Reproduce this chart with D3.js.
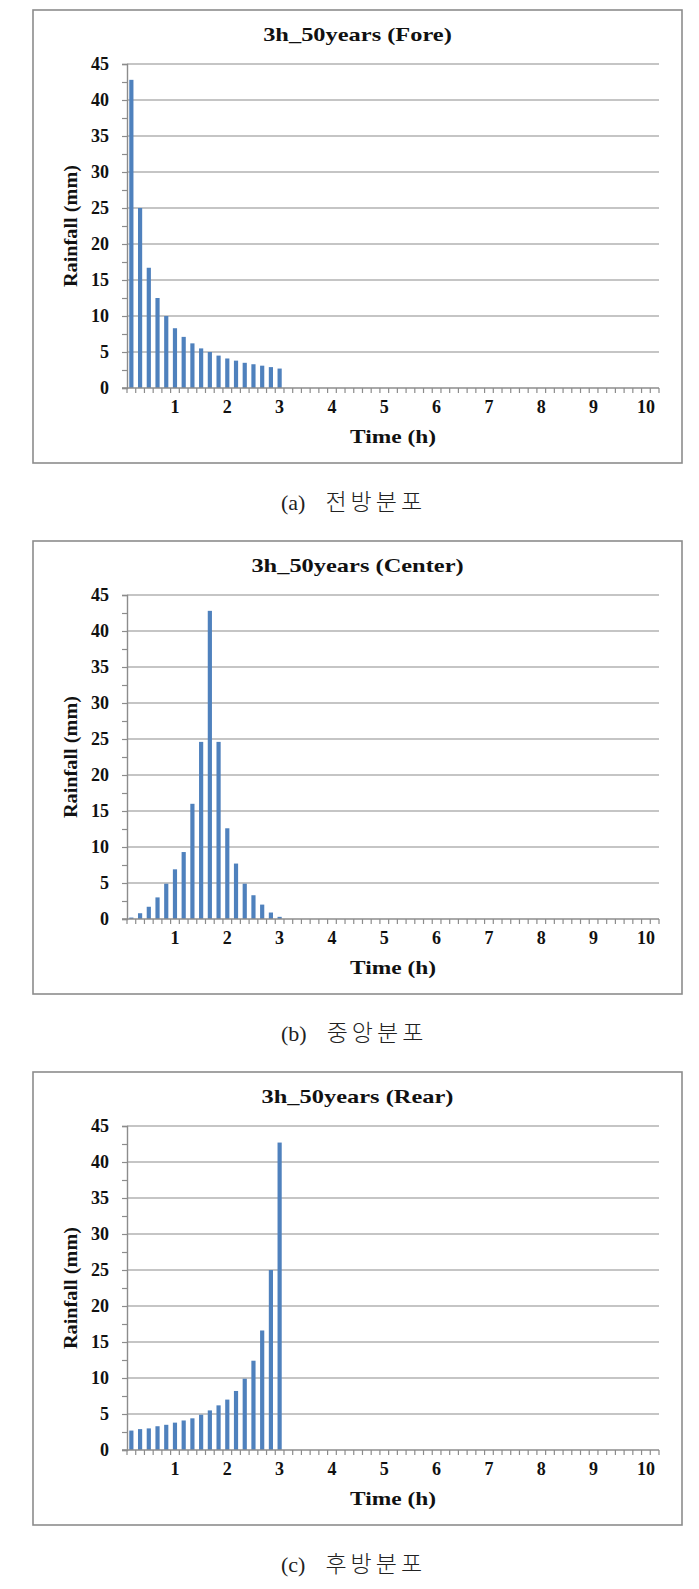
<!DOCTYPE html>
<html>
<head>
<meta charset="utf-8">
<script src="https://cdn.jsdelivr.net/npm/d3@7"></script>
<style>
  html, body { margin: 0; padding: 0; background: #fff; }
  svg { display: block; }
</style>
</head>
<body>
<div id="chart"></div>
<script>
// ---- data ----
// 10-minute time steps (minutes) along the category axis
const categories = [10,20,30,40,50,60,70,80,90,100,110,120,130,140,150,160,170,180,190,200,
  210,220,230,240,250,260,270,280,290,300,310,320,330,340,350,360,370,380,390,400,
  410,420,430,440,450,460,470,480,490,500,510,520,530,540,550,560,570,580,590,600,610];
const xTickLabels = ["1","2","3","4","5","6","7","8","9","10"];
const xTickCategories = [60,120,180,240,300,360,420,480,540,600];
const yTickValues = [0,5,10,15,20,25,30,35,40,45];

const foreValues   = [42.8,25.0,16.7,12.5,10.0,8.3,7.1,6.2,5.5,5.0,4.5,4.1,3.8,3.5,3.3,3.1,2.9,2.7];
const centerValues = [0.2,0.8,1.7,3.0,4.9,6.9,9.3,16.0,24.6,42.8,24.6,12.6,7.7,4.9,3.3,2.0,0.9,0.3];
const rearValues   = [2.7,2.9,3.0,3.3,3.5,3.8,4.1,4.4,4.9,5.5,6.2,7.0,8.2,9.9,12.4,16.6,25.0,42.7];

const titles = ["3h_50years (Fore)","3h_50years (Center)","3h_50years (Rear)"];
const captionLetters = ["(a)","(b)","(c)"];
const captionWords = ["전방분포","중앙분포","후방분포"];
const seriesList = [foreValues, centerValues, rearValues];

// ---- layout ----
const W = 699, H = 1589;
const panelStep = 531;
const box = {x: 33, y: 10, w: 649, h: 453};
const plot = {l: 127, r: 659, t: 64, b: 388};
const serif = "'Liberation Serif','Times New Roman',serif";
const gridColor = "#8c8c8c";
const barColor = "#4f81bd";

const svg = d3.select("#chart").append("svg")
  .attr("width", W).attr("height", H)
  .attr("viewBox", `0 0 ${W} ${H}`);

const x = d3.scaleBand().domain(categories).range([plot.l, plot.r])
  .paddingInner(0.52).paddingOuter(0.26);
const y = d3.scaleLinear().domain([0, 45]).range([plot.b, plot.t]);

seriesList.forEach((vals, i) => {
  const g = svg.append("g").attr("transform", `translate(0,${i * panelStep})`);

  // panel frame
  g.append("rect").attr("x", box.x).attr("y", box.y).attr("width", box.w).attr("height", box.h)
    .attr("fill", "#fff").attr("stroke", gridColor).attr("stroke-width", 1.6);

  // title
  g.append("text")
    .attr("transform", `translate(357.5,41) scale(1.32,1)`)
    .attr("text-anchor", "middle")
    .style("font-family", serif).style("font-weight", "bold").style("font-size", "18.5px")
    .attr("fill", "#111")
    .text(titles[i]);

  // gridlines
  g.append("g").selectAll("line").data(yTickValues.filter(v => v > 0)).join("line")
    .attr("x1", plot.l).attr("x2", plot.r)
    .attr("y1", d => y(d)).attr("y2", d => y(d))
    .attr("stroke", gridColor).attr("stroke-width", 1.2);

  // y axis
  const yMinor = d3.range(0, 45.01, 2.5);
  const yAxis = g.append("g").attr("transform", `translate(${plot.l},0)`)
    .call(d3.axisLeft(y).tickValues(yMinor).tickSize(5).tickPadding(13)
      .tickFormat(d => (d % 5 === 0 ? d : "")));
  yAxis.select(".domain").attr("stroke", gridColor).attr("stroke-width", 1.4);
  yAxis.selectAll(".tick line").attr("stroke", gridColor).attr("stroke-width", 1.2);
  yAxis.selectAll(".tick text")
    .style("font-family", serif).style("font-weight", "bold").style("font-size", "18px")
    .attr("fill", "#111");

  // bars
  g.append("g").selectAll("rect").data(vals).join("rect")
    .attr("x", (d, k) => x(categories[k]))
    .attr("width", x.bandwidth())
    .attr("y", d => y(d))
    .attr("height", d => y(0) - y(d))
    .attr("fill", barColor);

  // x axis line and boundary ticks
  const half = (x.step() - x.bandwidth()) / 2;
  const bounds = categories.map(c => x(c) - half).concat([plot.r]);
  g.append("line").attr("x1", plot.l - 5).attr("x2", plot.r)
    .attr("y1", y(0)).attr("y2", y(0))
    .attr("stroke", gridColor).attr("stroke-width", 1.4);
  g.append("g").selectAll("line").data(bounds).join("line")
    .attr("x1", d => d).attr("x2", d => d)
    .attr("y1", y(0)).attr("y2", y(0) + 5)
    .attr("stroke", gridColor).attr("stroke-width", 1.2);

  // x tick labels
  const xAxis = g.append("g").attr("transform", `translate(0,${y(0)})`)
    .call(d3.axisBottom(x).tickValues(xTickCategories).tickSize(0).tickPadding(12)
      .tickFormat(d => xTickLabels[xTickCategories.indexOf(d)]));
  xAxis.select(".domain").remove();
  xAxis.selectAll(".tick text")
    .style("font-family", serif).style("font-weight", "bold").style("font-size", "18px")
    .attr("fill", "#111");

  // axis titles
  g.append("text")
    .attr("x", (plot.l + plot.r) / 2).attr("y", 443)
    .attr("text-anchor", "middle")
    .attr("textLength", 86).attr("lengthAdjust", "spacingAndGlyphs")
    .style("font-family", serif).style("font-weight", "bold").style("font-size", "18.5px")
    .attr("fill", "#111")
    .text("Time (h)");
  g.append("text")
    .attr("transform", `translate(77,${(plot.t + plot.b) / 2}) rotate(-90)`)
    .attr("text-anchor", "middle")
    .attr("textLength", 122).attr("lengthAdjust", "spacingAndGlyphs")
    .style("font-family", serif).style("font-weight", "bold").style("font-size", "18.5px")
    .attr("fill", "#111")
    .text("Rainfall (mm)");

  // caption
  const cap = g.append("text")
    .attr("x", 281).attr("y", box.y + box.h + 47)
    .attr("fill", "#222");
  cap.append("tspan")
    .style("font-family", serif).style("font-size", "22px")
    .text(captionLetters[i]);
  cap.append("tspan")
    .attr("dx", 20)
    .style("font-family", "'Noto Sans CJK KR'").style("font-weight", "300")
    .style("font-size", "23px").style("letter-spacing", "4px")
    .text(captionWords[i]);
});
</script>
</body>
</html>
